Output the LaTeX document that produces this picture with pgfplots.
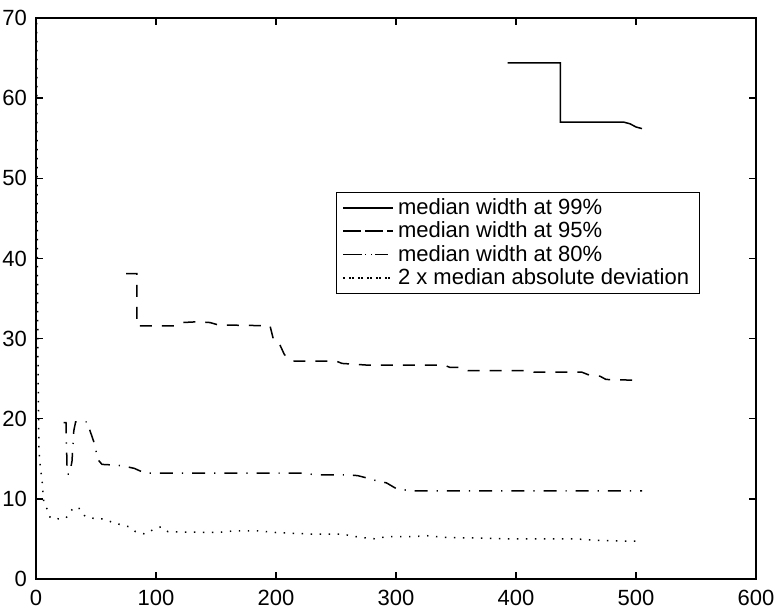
\documentclass[border=0pt]{standalone}
\usepackage{pgfplots}
\pgfplotsset{compat=1.18}
\usepackage{fontspec}
\setmainfont{Liberation Sans}
\begin{document}
\begin{tikzpicture}
\useasboundingbox (-18pt,-16.35pt) rectangle (369.5pt,289.5pt);
\begin{axis}[
 at={(0,0)}, anchor=south west,
 scale only axis, width=360pt, height=280.5pt,
 xmin=0, xmax=600, ymin=0, ymax=70,
 xtick={0,100,...,600}, ytick={0,10,...,70},
 tick align=inside, major tick length=3.5pt,
 axis line style={line width=0.7pt},
 every tick/.style={line width=0.7pt, black},
 tick label style={font=\fontsize{11}{13}\selectfont},
 xticklabel shift=2pt, yticklabel shift=1pt,
 /pgf/number format/assume math mode=true,
 scaled ticks=false,
 legend style={at={(axis cs:250,48.3)}, anchor=north west, draw=black, line width=0.5pt,
   font=\fontsize{11}{12}\selectfont, inner xsep=3pt, inner ysep=1pt, row sep=-1.8pt},
 legend cell align=left,
 legend image code/.code={\draw[#1] (3pt,0pt) -- (22pt,0pt); \path (0pt,0pt) -- (25pt,0pt);},
 every axis plot/.append style={black, line width=0.75pt},
]
% median width at 99%
\addplot[solid] coordinates {
(393,64.4) (437,64.4) (437,57.0) (490,57.0) (495,56.8) (500,56.4) (505,56.2)
};
\addlegendentry{median width at 99\%}
% median width at 95%
\addplot[dash pattern=on 6pt off 5pt] coordinates {
(75,38.1) (84,38.1) (84,31.6) (115,31.6) (122,32.0) (135,32.1) (145,32.0) (152,31.7)
(195,31.6) (198,29.8) (203,29.3) (207,28.0) (212,27.3) (215,27.2) (250,27.2) (255,26.9)
(275,26.7) (300,26.7) (340,26.7) (345,26.4) (355,26.4) (360,26.0) (410,26.0) (415,25.8)
(455,25.8) (460,25.5) (470,25.3) (475,24.9) (500,24.8)
};
\addlegendentry{median width at 95\%}
% median width at 80%
\addplot[dash pattern=on 6.5pt off 4.5pt on 0.6pt off 4.5pt] coordinates {
(23,19.5) (25,19.5) (26,13.1) (28,13.1) (30,14.7) (31.5,18.5) (33,19.6) (43,19.6)
(45,18.5) (48,17.2) (50,16.0) (51,15.0) (55,14.3) (68,14.2) (76,14.0) (82,13.8)
(88,13.4) (92,13.2) (225,13.2) (232,13.0) (260,13.0) (268,12.9) (276,12.6) (285,12.2)
(292,12.0) (300,11.3) (308,11.1) (315,11.0) (505,11.0)
};
\addlegendentry{median width at 80\%}
% 2 x median absolute deviation
\addplot[dash pattern=on 0.7pt off 3.8pt] coordinates {
(0.5,75) (1,45) (1.5,30) (2,22) (2.5,16) (3,15) (4,13.5) (5,12.5) (6,10.2) (7,9.2)
(9,8.8) (12,7.6) (20,7.5) (25,7.6) (28,8.3) (32,9.0) (36,8.8) (41,7.8) (50,7.5)
(56,7.5) (65,7.0) (78,6.5) (83,5.9) (91,5.6) (98,6.2) (104,6.5) (110,5.9) (150,5.8)
(165,6.0) (185,6.0) (200,5.8) (230,5.6) (255,5.6) (270,5.2) (283,5.0) (292,5.3)
(315,5.3) (326,5.4) (340,5.2) (400,5.0) (450,5.0) (470,4.8) (505,4.7)
};
\addlegendentry{2 x median absolute deviation}
\end{axis}
\end{tikzpicture}
\end{document}
